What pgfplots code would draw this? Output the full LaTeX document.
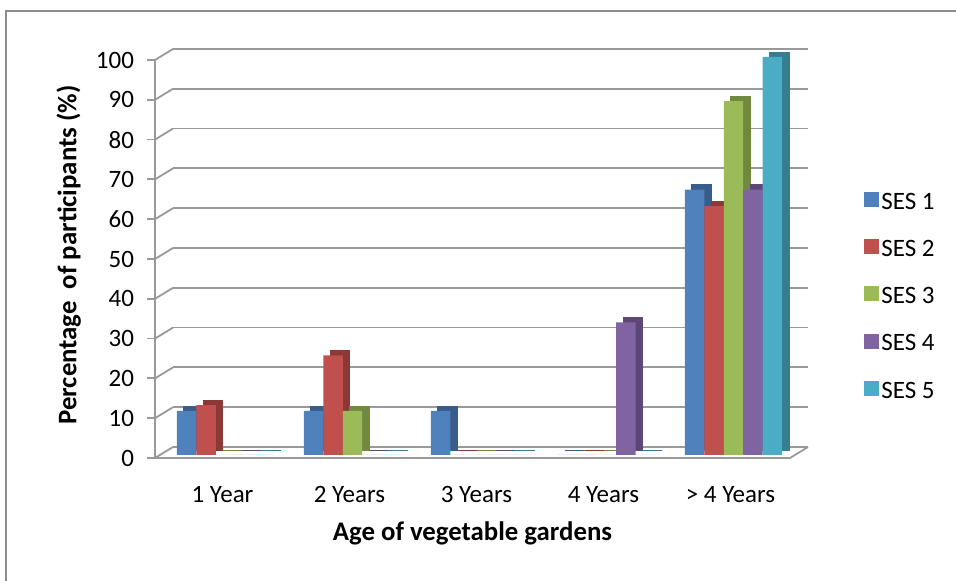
\documentclass[border=0pt]{standalone}
\usepackage{fontspec}
\setmainfont{Carlito}
\usepackage{pgfplots}
\usepackage{pgfplotstable}
\pgfplotsset{compat=1.18}
\definecolor{c1}{HTML}{4F81BD}\definecolor{d1}{HTML}{385D8A}
\definecolor{c2}{HTML}{C0504D}\definecolor{d2}{HTML}{8C3836}
\definecolor{c3}{HTML}{9BBB59}\definecolor{d3}{HTML}{71893F}
\definecolor{c4}{HTML}{8064A2}\definecolor{d4}{HTML}{5C4776}
\definecolor{c5}{HTML}{4BACC6}\definecolor{d5}{HTML}{357D91}
\definecolor{gridc}{HTML}{999999}
\pgfplotstableread{
x s1 s2 s3 s4 s5
0 11.1 12.5 0 0 0
1 11.1 25.0 11.1 0 0
2 11.1 0 0 0 0
3 0 0 0 33.3 0
4 66.7 62.5 88.9 66.7 100
}\data
\begin{document}
\begin{tikzpicture}
\path[use as bounding box] (-77.5pt,-61.5pt) rectangle (400.5pt,229pt);
\draw[gray!90, line width=0.6pt] (-74.5pt,-62pt) -- (-74.5pt,223.5pt) -- (401pt,223.5pt);
\begin{axis}[
  at={(0,0)}, anchor=south west,
  scale only axis, width=317.5pt, height=199pt,
  clip=false,
  font=\fontsize{12.5}{15}\selectfont,
  /pgf/number format/assume math mode=true,
  xmin=-0.5, xmax=4.5, ymin=0, ymax=100,
  xtick={0,1,2,3,4},
  xticklabels={1 Year, 2 Years, 3 Years, 4 Years, > 4 Years},
  ytick={0,10,...,100},
  axis x line=bottom, axis y line=left,
  axis line style={-, gridc, line width=0.9pt},
  x axis line style={draw=none},
  xtick style={draw=none},
  ytick style={gridc, line width=0.9pt},
  tick align=outside, major tick length=4pt,
  xticklabel style={yshift=-6.5pt, xshift=2pt},
  yticklabel style={xshift=-3pt},
  xlabel={\textbf{Age of vegetable gardens}},
  ylabel={\textbf{Percentage\ \ of participants (\%)}},
  xlabel style={at={(axis description cs:0.5,-0.19)}, anchor=center, font=\fontsize{13.4}{16}\selectfont},
  ylabel style={at={(axis description cs:-0.136,0.51)}, anchor=center, font=\fontsize{13.4}{16}\selectfont},
  bar width=0.153,
  legend style={at={(1.1165,0.672)}, anchor=north west, draw=none, fill=none,
    inner sep=0pt, row sep=12pt, font=\fontsize{12.5}{15}\selectfont,
    nodes={inner sep=1pt}},
  legend cell align=left,
  legend image code/.code={\fill[#1] (0pt,-3.75pt) rectangle (7.5pt,3.75pt);},
  every axis legend/.append style={/tikz/every even column/.append style={column sep=2pt}},
]
% back wall gridlines and connectors
\pgfplotsinvokeforeach{0,10,...,100}{
  \draw[gridc, line width=0.9pt] ([xshift=9pt,yshift=5.5pt]axis cs:-0.5,#1) -- ([xshift=9pt,yshift=5.5pt]axis cs:4.5,#1);
  \draw[gridc, line width=0.9pt] (axis cs:-0.5,#1) -- ([xshift=9pt,yshift=5.5pt]axis cs:-0.5,#1);
}
\draw[gridc, line width=0.9pt] (axis cs:-0.5,0) -- (axis cs:4.5,0) -- ([xshift=9pt,yshift=5.5pt]axis cs:4.5,0);
% bars: dark back copy (side/top faces) then front face
\addplot[ybar, bar shift=-0.251, fill=d1, draw=d1, line width=0.6pt, xshift=3.5pt, yshift=3.75pt, forget plot] table[x=x,y=s1]{\data};
\addplot[ybar, bar shift=-0.251, fill=c1, draw=none, yshift=1.5pt] table[x=x,y=s1]{\data};
\addplot[ybar, bar shift=-0.098, fill=d2, draw=d2, line width=0.6pt, xshift=3.5pt, yshift=3.75pt, forget plot] table[x=x,y=s2]{\data};
\addplot[ybar, bar shift=-0.098, fill=c2, draw=none, yshift=1.5pt] table[x=x,y=s2]{\data};
\addplot[ybar, bar shift=0.055, fill=d3, draw=d3, line width=0.6pt, xshift=3.5pt, yshift=3.75pt, forget plot] table[x=x,y=s3]{\data};
\addplot[ybar, bar shift=0.055, fill=c3, draw=none, yshift=1.5pt] table[x=x,y=s3]{\data};
\addplot[ybar, bar shift=0.208, fill=d4, draw=d4, line width=0.6pt, xshift=3.5pt, yshift=3.75pt, forget plot] table[x=x,y=s4]{\data};
\addplot[ybar, bar shift=0.208, fill=c4, draw=none, yshift=1.5pt] table[x=x,y=s4]{\data};
\addplot[ybar, bar shift=0.361, fill=d5, draw=d5, line width=0.6pt, xshift=3.5pt, yshift=3.75pt, forget plot] table[x=x,y=s5]{\data};
\addplot[ybar, bar shift=0.361, fill=c5, draw=none, yshift=1.5pt] table[x=x,y=s5]{\data};
\legend{SES 1, SES 2, SES 3, SES 4, SES 5}
\end{axis}
\end{tikzpicture}
\end{document}
